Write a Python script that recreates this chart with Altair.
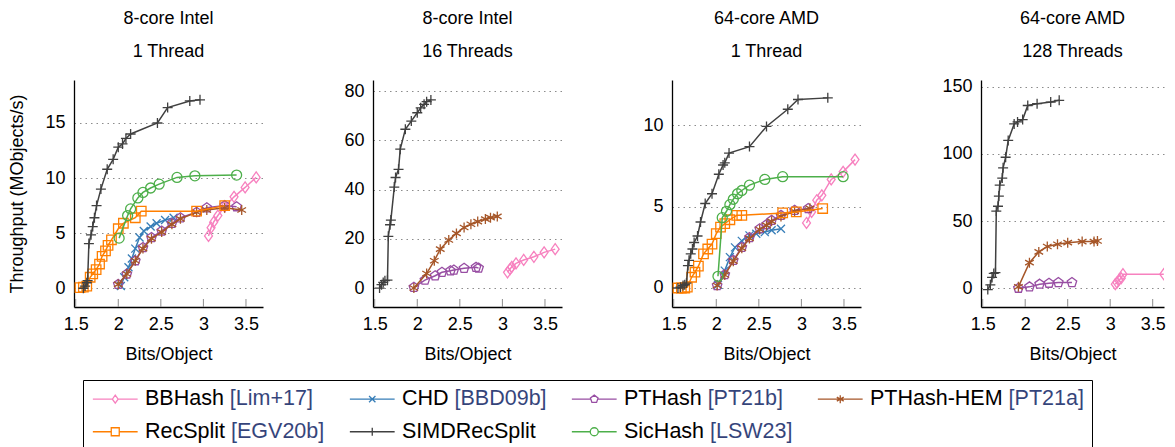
import altair as alt
import pandas as pd

# ---------------- data ----------------
METHODS = ["BBHash", "CHD", "PTHash", "PTHash-HEM", "RecSplit", "SIMDRecSplit", "SicHash"]
CITES = ["Lim+17", "BBD09b", "PT21b", "PT21a", "EGV20b", "", "LSW23"]
COLORS = ["#f781bf", "#377eb8", "#984ea3", "#a65628", "#ff7f00", "#404040", "#4daf4a"]

PANEL_TITLES = ["8-core Intel", "8-core Intel", "64-core AMD", "64-core AMD"]
PANEL_SUBTITLES = ["1 Thread", "16 Threads", "1 Thread", "128 Threads"]
X_TICKS = [1.5, 2.0, 2.5, 3.0, 3.5]
Y_TICKS_I1 = [0, 5, 10, 15]
Y_TICKS_I16 = [0, 20, 40, 60, 80]
Y_TICKS_A1 = [0, 5, 10]
Y_TICKS_A128 = [0, 50, 100, 150]

# 8-core Intel, 1 thread
BBH_I1_X = [3.06, 3.09, 3.12, 3.17, 3.25, 3.36, 3.49, 3.62]
BBH_I1_Y = [4.75, 5.5, 6.0, 6.6, 7.4, 8.3, 9.15, 10.06]
CHD_I1_X = [2.03, 2.07, 2.12, 2.16, 2.2, 2.25, 2.3, 2.38, 2.45, 2.55, 2.65]
CHD_I1_Y = [0.2, 1.0, 1.9, 2.7, 3.6, 4.6, 5.2, 5.6, 5.9, 6.2, 6.4]
PTH_I1_X = [2.0, 2.1, 2.2, 2.29, 2.39, 2.51, 2.63, 2.73, 2.92, 3.04, 3.25, 3.39]
PTH_I1_Y = [0.35, 1.3, 2.5, 3.7, 4.6, 5.2, 5.9, 6.4, 6.9, 7.3, 7.5, 7.4]
HEM_I1_X = [2.0, 2.1, 2.2, 2.29, 2.39, 2.51, 2.63, 2.73, 2.92, 3.04, 3.25, 3.45]
HEM_I1_Y = [0.35, 1.3, 2.5, 3.6, 4.5, 5.1, 5.8, 6.3, 6.9, 7.1, 7.3, 7.1]
REC_I1_X = [1.55, 1.59, 1.63, 1.67, 1.70, 1.74, 1.78, 1.81, 1.85, 1.88, 1.92, 2.0, 2.06, 2.2, 2.27, 2.92, 3.25]
REC_I1_Y = [0.05, 0.1, 0.2, 1.0, 1.3, 1.7, 2.2, 2.9, 3.4, 3.9, 4.4, 5.4, 5.9, 6.4, 7.0, 7.0, 7.5]
SIMD_I1_X = [1.59, 1.61, 1.63, 1.64, 1.655, 1.68, 1.70, 1.72, 1.745, 1.796, 1.87, 1.94, 2.0, 2.05, 2.09,
             2.145, 2.46, 2.58, 2.84, 2.96]
SIMD_I1_Y = [0.0, 0.2, 0.5, 0.7, 4.06, 4.85, 5.6, 6.4, 7.5, 9.0, 10.8, 11.7, 12.8, 13.1, 13.6, 14.0, 15.0,
             16.4, 17.0, 17.1]
SIC_I1_X = [2.01, 2.11, 2.145, 2.23, 2.29, 2.38, 2.48, 2.69, 2.90, 3.39]
SIC_I1_Y = [4.55, 6.6, 7.2, 8.2, 8.7, 9.1, 9.45, 10.06, 10.2, 10.27]

# 8-core Intel, 16 threads
BBH_I16_X = [3.06, 3.09, 3.11, 3.16, 3.25, 3.37, 3.49, 3.62]
BBH_I16_Y = [6.4, 7.7, 8.6, 10.0, 11.4, 12.7, 14.5, 15.8]
PTH_I16_X = [1.96, 2.09, 2.21, 2.29, 2.39, 2.43, 2.55, 2.69, 2.72]
PTH_I16_Y = [0.3, 3.2, 5.0, 6.4, 7.0, 7.3, 8.0, 8.4, 8.1]
HEM_I16_X = [1.96, 2.11, 2.2, 2.27, 2.37, 2.46, 2.55, 2.63, 2.71, 2.80, 2.86, 2.94]
HEM_I16_Y = [0, 5.9, 11.1, 15.8, 19.5, 22.2, 24.6, 25.9, 27.0, 28.0, 28.6, 29.1]
SIMD_I16_X = [1.557, 1.58, 1.60, 1.62, 1.65, 1.66, 1.68, 1.69, 1.73, 1.745, 1.78, 1.80, 1.86, 1.93, 2.0,
              2.04, 2.08, 2.11, 2.16]
SIMD_I16_Y = [0, 1.35, 2.3, 3.0, 3.2, 21, 25.7, 27.6, 41, 44.9, 48.2, 56.4, 64.5, 67.8, 71.2, 73.2, 74.6,
              75.7, 76.4]

# 64-core AMD, 1 thread
BBH_A1_X = [3.06, 3.12, 3.18, 3.24, 3.35, 3.49, 3.63]
BBH_A1_Y = [4.0, 4.68, 5.4, 5.7, 6.68, 7.15, 7.9]
CHD_A1_X = [2.02, 2.1, 2.16, 2.22, 2.3, 2.39, 2.47, 2.57, 2.65, 2.76]
CHD_A1_Y = [0.2, 1.07, 1.9, 2.5, 2.9, 3.24, 3.34, 3.44, 3.55, 3.65]
PTH_A1_X = [2.01, 2.1, 2.2, 2.3, 2.39, 2.51, 2.59, 2.65, 2.76, 2.92, 3.08]
PTH_A1_Y = [0.15, 0.82, 1.7, 2.5, 3.1, 3.65, 3.9, 4.16, 4.47, 4.78, 4.89]
HEM_A1_X = [2.01, 2.1, 2.2, 2.3, 2.39, 2.51, 2.59, 2.65, 2.76, 2.92, 3.1]
HEM_A1_Y = [0.15, 0.8, 1.65, 2.45, 3.05, 3.6, 3.85, 4.1, 4.4, 4.72, 4.9]
REC_A1_X = [1.55, 1.59, 1.63, 1.66, 1.71, 1.75, 1.79, 1.85, 1.9, 1.95, 2.0, 2.05, 2.1, 2.16, 2.24, 2.3,
            2.78, 2.94, 3.25]
REC_A1_Y = [0, 0, 0, 0.05, 0.66, 0.97, 1.34, 2.1, 2.4, 2.7, 3.34, 3.75, 3.96, 4.2, 4.47, 4.47, 4.62, 4.68, 4.89]
SIMD_A1_X = [1.55, 1.58, 1.61, 1.63, 1.65, 1.667, 1.68, 1.70, 1.72, 1.74, 1.78, 1.815, 1.87, 1.95, 2.03,
             2.08, 2.1, 2.15, 2.39, 2.59, 2.84, 2.96, 3.31]
SIMD_A1_Y = [0, 0.05, 0.15, 0.2, 0.3, 1.38, 1.7, 2.1, 2.4, 2.8, 3.2, 4.06, 5.2, 5.8, 7.0, 7.57, 7.7, 8.3,
             8.7, 9.94, 11.0, 11.6, 11.7]
SIC_A1_X = [2.02, 2.07, 2.12, 2.16, 2.2, 2.25, 2.3, 2.39, 2.57, 2.78, 3.49]
SIC_A1_Y = [0.72, 4.33, 4.72, 5.13, 5.46, 5.8, 6.0, 6.33, 6.68, 6.85, 6.85]

# 64-core AMD, 128 threads
BBH_A128_X = [3.06, 3.08, 3.1, 3.13, 3.15, 3.63]
BBH_A128_Y = [3, 4.2, 6, 7.4, 10.4, 10.4]
PTH_A128_X = [1.92, 2.05, 2.17, 2.28, 2.39, 2.55]
PTH_A128_Y = [0, 1, 3, 3.7, 4.2, 4.2]
HEM_A128_X = [1.92, 2.05, 2.16, 2.26, 2.38, 2.5, 2.67, 2.81, 2.85]
HEM_A128_Y = [1, 19, 27, 31, 32.7, 33.9, 34.7, 34.7, 35.1]
SIMD_A128_X = [1.56, 1.59, 1.61, 1.63, 1.65, 1.66, 1.68, 1.69, 1.70, 1.73, 1.74, 1.77, 1.80, 1.87, 1.91,
               1.97, 2.03, 2.14, 2.3, 2.4]
SIMD_A128_Y = [-1, 2.5, 8, 11, 11.6, 57.4, 61, 68.6, 76.7, 82, 89.6, 97.5, 110, 122.3, 123.8, 125.5, 136,
               137.4, 138.6, 139.9]

# ---------------- styling ----------------
FONT = "Liberation Sans"
CITE_COLOR = "#33447a"
MARKERS = {
    "BBHash": "M0,-1L0.72,0L0,1L-0.72,0Z",
    "CHD": "M-0.8,-0.8L0.8,0.8M-0.8,0.8L0.8,-0.8",
    "PTHash": "M0,-1L0.951,-0.309L0.588,0.809L-0.588,0.809L-0.951,-0.309Z",
    "PTHash-HEM": "M0,-1L0,1M-0.866,-0.5L0.866,0.5M-0.866,0.5L0.866,-0.5",
    "RecSplit": "M-1,-1L1,-1L1,1L-1,1Z",
    "SIMDRecSplit": "M-1,0L1,0M0,-1L0,1",
    "SicHash": "circle",
}
CIRCLE_PATH = "M1,0A1,1,0,1,1,-1,0A1,1,0,1,1,1,0Z"
MARKER_HALF = {"BBHash": 0.72, "CHD": 0, "PTHash": 0.951, "PTHash-HEM": 0,
               "RecSplit": 1, "SIMDRecSplit": 0, "SicHash": 1}
MARKER_SIZE = {"BBHash": 121, "CHD": 100, "PTHash": 100, "PTHash-HEM": 100,
               "RecSplit": 90, "SIMDRecSplit": 100, "SicHash": 100}

PW, PH = 189, 227
GRID = "#8c8c8c"

LABELS = [m + (" [" + c + "]" if c else "") for m, c in zip(METHODS, CITES)]

# Helvetica/Arial advance widths, to split name (black) and citation (blue)
AW = {" ": 278, "[": 278, "]": 278, "+": 584, "-": 333,
      "A": 667, "B": 667, "C": 722, "D": 722, "E": 667, "G": 778, "H": 722, "I": 278, "L": 556,
      "M": 833, "P": 667, "R": 722, "S": 667, "T": 611, "V": 667, "W": 944,
      "a": 556, "b": 556, "c": 500, "e": 556, "h": 556, "i": 222, "l": 222, "m": 833,
      "p": 556, "s": 500, "t": 278}


def tw(s):
    return sum(AW.get(ch, 556) for ch in s)


def frac(m, lab):
    if lab == m:
        return 1.0
    return (tw(m) + 0.5 * tw(" ")) / tw(lab)


def ternary(values, default):
    expr = default
    for lab, v in reversed(list(zip(LABELS, values))):
        expr = f"datum.value === '{lab}' ? {v} : ({expr})"
    return expr


frac_expr = ternary([f"{frac(m, l):.4f}" for m, l in zip(METHODS, LABELS)], "1")
label_fill_expr = ("{gradient: 'linear', x1: 0, y1: 0, x2: 1, y2: 0, stops: ["
                   "{offset: 0, color: '#000000'}, {offset: FF, color: '#000000'}, "
                   "{offset: FF, color: '" + CITE_COLOR + "'}, {offset: 1, color: '" + CITE_COLOR + "'}]}")
label_fill_expr = label_fill_expr.replace("FF", "(" + frac_expr + ")")

LEG_HALF = 5.6  # half line length in symbol units (size 64 -> 4px per unit)


def legend_path(m):
    mk = MARKERS[m] if MARKERS[m] != "circle" else CIRCLE_PATH
    h = MARKER_HALF[m]
    if h > 0:
        line = f"M{-LEG_HALF},0L{-h},0M{h},0L{LEG_HALF},0"
    else:
        line = f"M{-LEG_HALF},0L{LEG_HALF},0"
    return line + mk


shape_expr = ternary(["'" + legend_path(m) + "'" for m in METHODS], "'circle'")


def panel(idx, series, ydom, yticks, xdom, width, first=False, legend=False, toff=19):
    xs = alt.Scale(domain=xdom, nice=False, zero=False)
    ys = alt.Scale(domain=ydom, nice=False, zero=False)
    xaxis = alt.Axis(values=X_TICKS, format=".2~f", title="Bits/Object", grid=False, ticks=False,
                     labelPadding=8, titlePadding=12)
    yaxis = alt.Axis(values=yticks, title="Throughput (MObjects/s)" if first else None, grid=True,
                     ticks=False, labelPadding=9, titlePadding=18)
    X = alt.X("x:Q", scale=xs, axis=xaxis)
    Y = alt.Y("y:Q", scale=ys, axis=yaxis)

    ticks_df = pd.DataFrame({"x": X_TICKS})
    layers = [alt.Chart(ticks_df).mark_rule(color=GRID, strokeWidth=1).encode(
        x=X, y=alt.value(PH), y2=alt.value(PH - 8))]
    all_rows = []
    for m, xv, yv in series:
        k = METHODS.index(m)
        df = pd.DataFrame({"x": xv, "y": yv, "i": list(range(len(xv))), "method": LABELS[k]})
        all_rows.append(df)
        layers.append(alt.Chart(df).mark_line(color=COLORS[k], strokeWidth=1.5, clip=True).encode(
            x=X, y=Y, order="i:Q"))
        layers.append(alt.Chart(df).mark_point(
            shape=MARKERS[m], size=MARKER_SIZE[m], filled=False, opacity=1, color=COLORS[k],
            strokeWidth=1.3, clip=True).encode(x=X, y=Y))
    if legend:
        alldf = pd.concat(all_rows)
        layers.append(alt.Chart(alldf).mark_point(opacity=0, filled=False, clip=True).encode(
            x=X, y=Y,
            color=alt.Color("method:N", scale=alt.Scale(domain=LABELS, range=COLORS),
                            legend=alt.Legend(
                                title=None, orient="none", legendX=9, legendY=300, columns=4,
                                direction="horizontal",
                                strokeColor="black", padding=8, cornerRadius=0,
                                labelFont=FONT, labelFontSize=21.5, labelLimit=0,
                                labelColor={"expr": label_fill_expr},
                                symbolType={"expr": shape_expr},
                                symbolSize=64, symbolStrokeWidth=1.3, symbolOpacity=1,
                                symbolOffset=13.5, labelOffset=19, columnPadding=22, rowPadding=10,
                                symbolFillColor="transparent", gridAlign="each"))))
    return alt.layer(*layers).properties(
        width=width, height=PH,
        title=alt.TitleParams(PANEL_TITLES[idx], subtitle=PANEL_SUBTITLES[idx], fontSize=18,
                              fontWeight="normal", font=FONT, subtitleFont=FONT, subtitleFontSize=18,
                              subtitleColor="black", subtitlePadding=15, offset=toff,
                              frame="group", anchor="middle"))


p1 = panel(0, [("BBHash", BBH_I1_X, BBH_I1_Y), ("CHD", CHD_I1_X, CHD_I1_Y), ("PTHash", PTH_I1_X, PTH_I1_Y),
               ("PTHash-HEM", HEM_I1_X, HEM_I1_Y), ("RecSplit", REC_I1_X, REC_I1_Y),
               ("SIMDRecSplit", SIMD_I1_X, SIMD_I1_Y), ("SicHash", SIC_I1_X, SIC_I1_Y)],
           [-1.7, 18.9], Y_TICKS_I1, [1.48, 3.70], PW, first=True, legend=True)
p2 = panel(1, [("BBHash", BBH_I16_X, BBH_I16_Y), ("PTHash", PTH_I16_X, PTH_I16_Y),
               ("PTHash-HEM", HEM_I16_X, HEM_I16_Y), ("SIMDRecSplit", SIMD_I16_X, SIMD_I16_Y)],
           [-7.7, 84.5], Y_TICKS_I16, [1.48, 3.70], PW)
p3 = panel(2, [("BBHash", BBH_A1_X, BBH_A1_Y), ("CHD", CHD_A1_X, CHD_A1_Y), ("PTHash", PTH_A1_X, PTH_A1_Y),
               ("PTHash-HEM", HEM_A1_X, HEM_A1_Y), ("RecSplit", REC_A1_X, REC_A1_Y),
               ("SIMDRecSplit", SIMD_A1_X, SIMD_A1_Y), ("SicHash", SIC_A1_X, SIC_A1_Y)],
           [-1.17, 12.8], Y_TICKS_A1, [1.48, 3.70], PW)
p4 = panel(3, [("BBHash", BBH_A128_X, BBH_A128_Y), ("PTHash", PTH_A128_X, PTH_A128_Y),
               ("PTHash-HEM", HEM_A128_X, HEM_A128_Y), ("SIMDRecSplit", SIMD_A128_X, SIMD_A128_Y)],
           [-14, 155], Y_TICKS_A128, [1.48, 3.633], 183, toff=16.7)

chart = alt.hconcat(p1, p2, p3, p4, spacing=80).resolve_scale(
    x="independent", y="independent", color="shared"
).properties(padding={"top": 2, "left": 0, "right": 0, "bottom": 0}).configure_view(stroke=None).configure_axis(
    domainColor="black", domainWidth=1.3, labelFont=FONT, labelFontSize=18, labelColor="black",
    titleFont=FONT, titleFontSize=18, titleFontWeight="normal", titleColor="black",
    gridColor=GRID, gridDash=[1.5, 4], gridWidth=1.2,
).configure_title(color="black")

chart.save("out.html", embed_options={"renderer": "svg", "actions": False})
